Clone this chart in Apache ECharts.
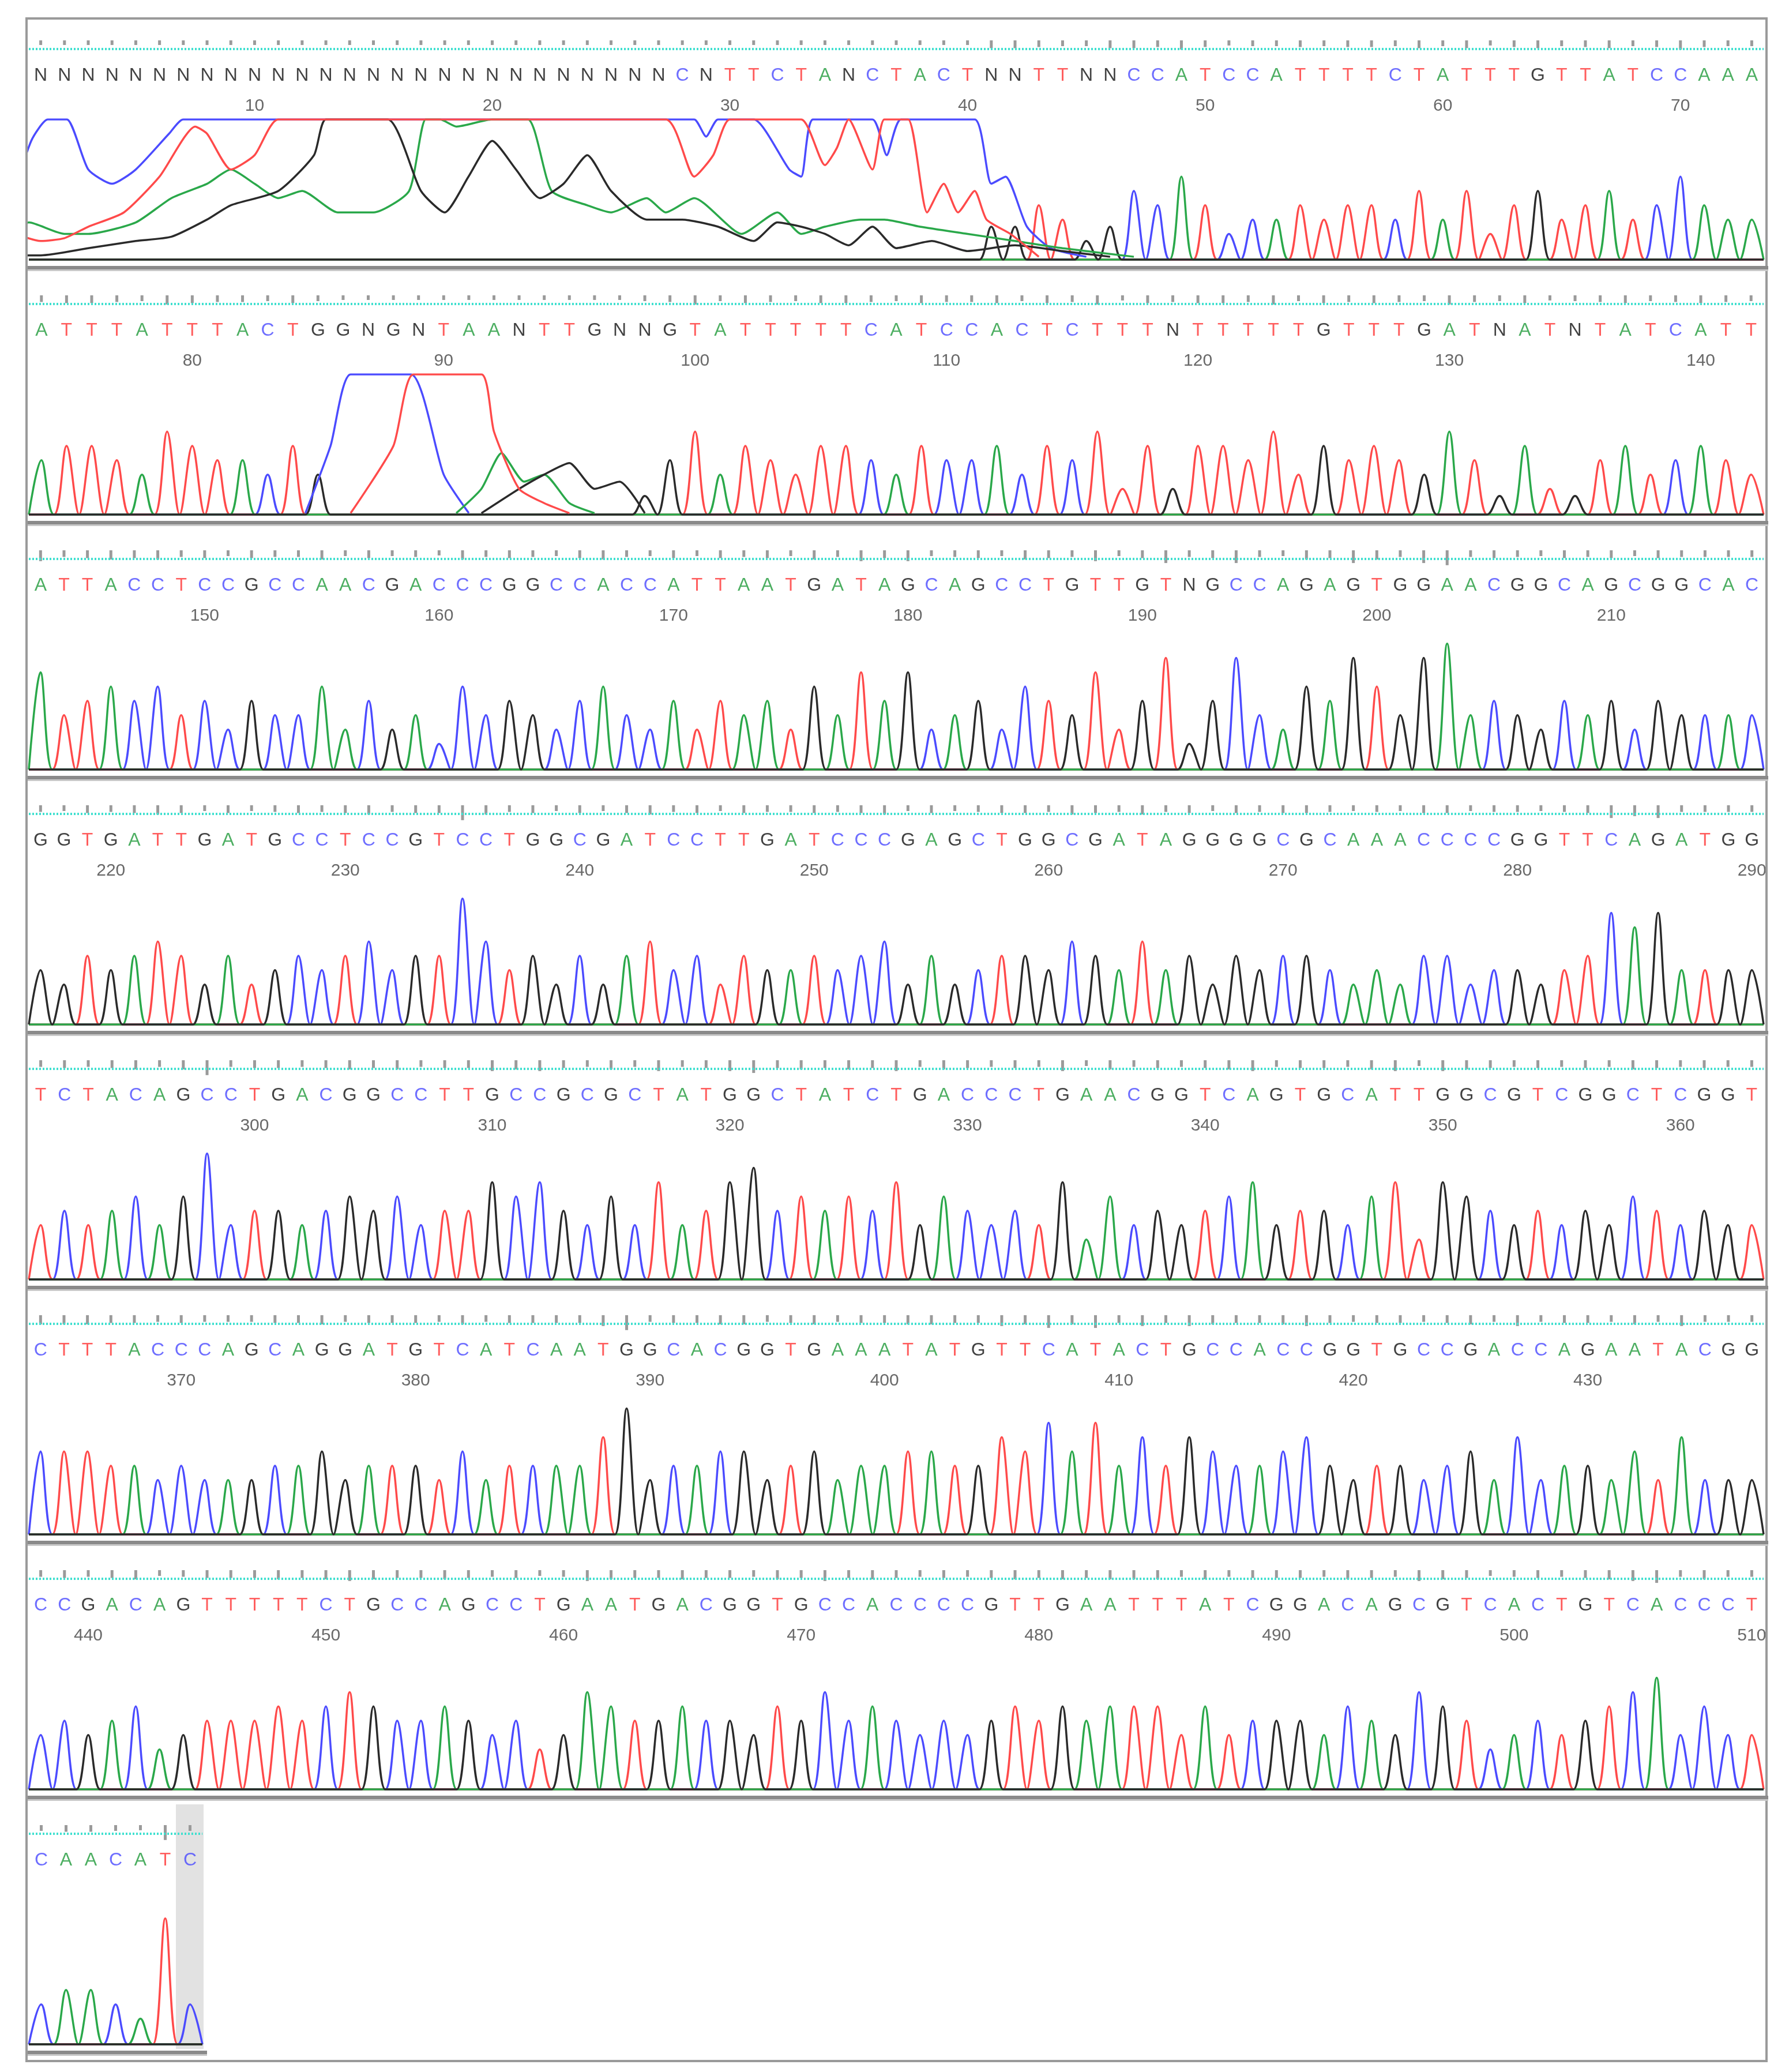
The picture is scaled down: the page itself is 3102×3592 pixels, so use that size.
<!DOCTYPE html>
<html><head><meta charset="utf-8">
<script src="https://cdn.jsdelivr.net/npm/echarts@6/dist/echarts.min.js"></script>
<style>html,body{margin:0;padding:0;background:#fff}#c{width:3102px;height:3592px}</style>
</head><body><div id="c"></div>
<script>
// ---- data ----
const seq1 = "NNNNNNNNNNNNNNNNNNNNNNNNNNNCNTTCTANCTACTNNTTNNCCATCCATTTTCTATTTGTTATCCAAA";
const seq2 = "ATTTATTTACTGGNGNTAANTTGNNGTATTTTTCATCCACTCTTTNTTTTTGTTTGATNATNTATCATT";
const seq3 = "ATTACCTCCGCCAACGACCCGGCCACCATTAATGATAGCAGCCTGTTGTNGCCAGAGTGGAACGGCAGCGGCAC";
const seq4 = "GGTGATTGATGCCTCCGTCCTGGCGATCCTTGATCCCGAGCTGGCGATAGGGGCGCAAACCCCGGTTCAGATGG";
const seq5 = "TCTACAGCCTGACGGCCTTGCCGCGCTATGGCTATCTGACCCTGAACGGTCAGTGCATTGGCGTCGGCTCGGT";
const seq6 = "CTTTACCCAGCAGGATGTCATCAATGGCACGGTGAAATATGTTCATACTGCCACCGGTGCCGACCAGAATACGG";
const seq7 = "CCGACAGTTTTTCTGCCAGCCTGAATGACGGTGCCACCCCGTTGAATTTATCGGACAGCGTCACTGTCACCCT";
const seq8 = "CAACATC";
const rowStarts = [1, 74, 143, 217, 291, 364, 438, 511];
// peak heights per base (tenths of the trace height), 0 = covered by broad signal
const heights1 = "0000000000000000000000000000000000000000554335546423343443535245345346433";
const heights2 = "455436544353000000000000346354355435445354625455463545436435234534543";
const heights3 = "74565645354463534264543564353545364757345365473584584365864894543545354";
const heights4 = "43545653534545645596453535645354454563534554654645354554343553443458784";
const heights5 = "45456469455456564557675464745785656574654547364545674554673765454546545";
const heights6 = "66655454445564555464555579455664564556655768685757655675455456474554647";
const heights7 = "45456345556567655654534765565546575654545656566646455546547653454567846";
const heights8 = "3443293";
// broad saturated signal at the start of row 1 [base, level]
const bg1Blue  = [[-0.4,0.35],[0.6,0.85],[1.3,1],[2.1,1],[3,0.65],[4,0.55],[5,0.65],[6.4,0.9],[7,1],[27.2,1],[28.5,1],[29,0.88],[29.5,1],[31,1],[32.5,0.65],[33,0.6],[33.5,1],[36,1],[36.6,0.75],[37.2,1],[40.3,1],[41,0.55],[41.6,0.6],[42.5,0.25],[43.5,0.1],[45,0.04]];
const bg1Red   = [[-0.4,0.22],[1,0.15],[2,0.17],[3,0.25],[4.5,0.35],[6,0.6],[7.5,0.95],[8,0.9],[9,0.65],[10,0.75],[11,1],[27.3,1],[28.5,0.6],[29.3,0.75],[30,1],[33,1],[34,0.68],[34.5,0.8],[35,1],[36,0.65],[36.5,1],[37.5,1],[38.3,0.35],[39,0.55],[39.6,0.35],[40.3,0.5],[40.8,0.3],[41.8,0.2],[43,0.04]];
const bg1Green = [[-0.4,0.15],[0.5,0.28],[2,0.2],[3,0.2],[5,0.28],[6.5,0.45],[8,0.55],[9,0.65],[10,0.55],[11,0.45],[12,0.5],[13.5,0.35],[15,0.35],[16.5,0.5],[17.2,1],[17.8,1],[18.5,0.95],[20,1],[21.5,1],[22.5,0.5],[24,0.4],[25,0.35],[26.5,0.45],[27.3,0.35],[28.5,0.45],[30.5,0.2],[32,0.35],[33,0.2],[34,0.25],[35.5,0.3],[36.5,0.3],[38,0.25],[40,0.2],[42,0.15],[44,0.1],[47,0.04]];
const bg1Black = [[-0.4,0.05],[1,0.05],[3,0.1],[5,0.15],[6.5,0.18],[8,0.3],[9,0.4],[11,0.5],[12.5,0.75],[13,1],[15.6,1],[17,0.5],[18,0.35],[19,0.6],[20,0.85],[21,0.65],[22,0.45],[23,0.55],[24,0.75],[25,0.5],[26.5,0.3],[28,0.3],[29.5,0.25],[31,0.15],[32,0.28],[33,0.25],[34,0.2],[35,0.12],[36,0.25],[37,0.1],[38.5,0.15],[40,0.08],[42,0.12],[44,0.08],[46,0.04]];
// broad signal in row 2
const bg2Blue  = [[84.5,0.03],[85.5,0.5],[86.3,1],[88.7,1],[90,0.3],[91,0.03]];
const bg2Red   = [[86.3,0.03],[88,0.5],[88.8,1],[91.5,1],[92,0.6],[93,0.2],[94,0.1],[95,0.03]];
const bg2Green = [[90.5,0.03],[91.5,0.2],[92.3,0.45],[93.2,0.25],[94,0.3],[95,0.1],[96,0.03]];
const bg2Black = [[91.5,0.03],[93,0.2],[94,0.3],[95,0.38],[96,0.2],[97,0.25],[98,0.03]];

// ---- rendering ----
const seqs = [seq1,seq2,seq3,seq4,seq5,seq6,seq7,seq8];
const heights = [heights1,heights2,heights3,heights4,heights5,heights6,heights7,heights8];
const bgs = {0:{A:bg1Green,C:bg1Blue,G:bg1Black,T:bg1Red},1:{A:bg2Green,C:bg2Blue,G:bg2Black,T:bg2Red}};
const letterColor = {A:'#1f9a3a',C:'#4a4aff',G:'#111111',T:'#ff3535',N:'#111111'};
const traceColor = {A:'#2aa84a',C:'#4b4bff',G:'#2a2a2a',T:'#ff4a4a'};
const chans = ['C','T','A','G'];
const PITCH = 442, LEFT = 50, FULLW = 3008;
const grids=[], xAxes=[], yAxes=[], series=[], graphics=[];

graphics.push({type:'rect',shape:{x:46,y:32,width:3017,height:3541},style:{fill:'none',stroke:'#9a9a9a',lineWidth:4},z:10});

seqs.forEach((seq,k)=>{
  const off = k*PITCH, start = rowStarts[k], end = start+seq.length-1;
  const w = k===7 ? 301 : FULLW;
  const hs = seq.split('').map((c,i)=>{const d=heights[k][i]; return d===undefined?0.4:Number(d)/10;});
  // header grid
  grids.push({left:LEFT,top:70+off,width:w,height:130});
  xAxes.push({type:'value',gridIndex:2*k,min:start-0.5,max:end+0.5,show:false});
  yAxes.push({type:'value',gridIndex:2*k,min:0,max:130,inverse:true,show:false});
  // trace grid
  grids.push({left:LEFT,top:207+off,width:w,height:253});
  xAxes.push({type:'value',gridIndex:2*k+1,min:start-0.5,max:end+0.5,show:false});
  yAxes.push({type:'value',gridIndex:2*k+1,min:-0.02,max:1.0,show:false});
  const hx = 2*k, tx = 2*k+1;
  // dotted cyan line
  series.push({type:'line',xAxisIndex:hx,yAxisIndex:hx,symbol:'none',data:[[start-0.5,15],[end+0.5,15]],
    lineStyle:{color:'#40e0d0',width:4,type:[3,3]},silent:true});
  // quality bars
  const q = hs.map(h=>h*h);
  series.push({type:'bar',xAxisIndex:hx,yAxisIndex:hx,stack:'q'+k,barWidth:5,silent:true,
    itemStyle:{color:'transparent'},data:seq.split('').map((c,i)=>[start+i,42-8-q[i]*22])});
  series.push({type:'bar',xAxisIndex:hx,yAxisIndex:hx,stack:'q'+k,barWidth:5,silent:true,
    itemStyle:{color:'#9a9a9a'},data:seq.split('').map((c,i)=>[start+i,8+q[i]*22])});
  // letters
  series.push({type:'scatter',xAxisIndex:hx,yAxisIndex:hx,symbolSize:1,itemStyle:{color:'transparent'},silent:true,
    label:{show:true,position:'inside',formatter:'{b}',fontFamily:'Liberation Sans',fontSize:32},
    data:seq.split('').map((c,i)=>({name:c,value:[start+i,61],label:{color:letterColor[c]}}))});
  // numbers
  const nums=[]; for(let n=Math.ceil(start/10)*10;n<=end;n+=10) nums.push({name:String(n),value:[n,114]});
  series.push({type:'scatter',xAxisIndex:hx,yAxisIndex:hx,symbolSize:1,itemStyle:{color:'transparent'},silent:true,
    label:{show:true,position:'inside',formatter:'{b}',fontFamily:'Liberation Sans',fontSize:30,color:'#444'},data:nums});
  // traces
  chans.forEach(ch=>{
    const pts=[];
    seq.split('').forEach((c,i)=>{
      const x=start+i, call = c==='N'?'G':c;
      pts.push([x-0.5,0.02]);
      let v = 0.02;
      if(call===ch && hs[i]>0) v = c==='N'?hs[i]*0.5:hs[i];
      pts.push([x,v]);
    });
    pts.push([end+0.5,0.02]);
    series.push({type:'line',xAxisIndex:tx,yAxisIndex:tx,symbol:'none',smooth:0.35,silent:true,
      data:pts,lineStyle:{color:traceColor[ch],width:3.5},z:3});
    if(bgs[k]) series.push({type:'line',xAxisIndex:tx,yAxisIndex:tx,symbol:'none',smooth:0.2,silent:true,
      data:bgs[k][ch],lineStyle:{color:traceColor[ch],width:3.5},z:ch==='T'?5:4});
  });
  // row separator
  graphics.push({type:'rect',shape:{x:48,y:461+off,width:w+10,height:6},style:{fill:'#8a8a8a'},z:10});
  graphics.push({type:'rect',shape:{x:48,y:467+off,width:w+10,height:3},style:{fill:'#c8c8c8'},z:10});
});
// highlighted last base column
graphics.push({type:'rect',shape:{x:305,y:3128,width:48,height:424},style:{fill:'#e2e2e2'},z:-10});

const chart = echarts.init(document.getElementById('c'),null,{renderer:'canvas'});
chart.setOption({animation:false,backgroundColor:'#fff',grid:grids,xAxis:xAxes,yAxis:yAxes,series,graphic:graphics});
</script></body></html>
